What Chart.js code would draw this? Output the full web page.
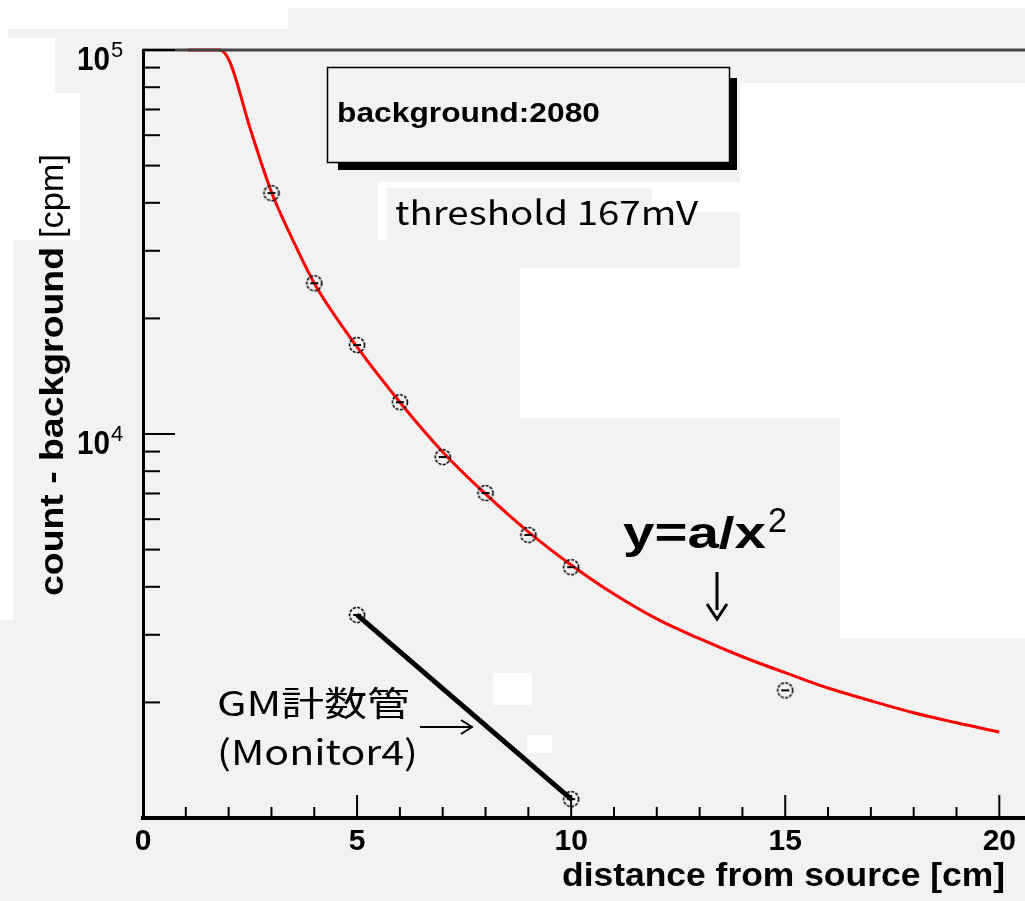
<!DOCTYPE html>
<html>
<head>
<meta charset="utf-8">
<script src="https://cdn.jsdelivr.net/npm/chart.js@4.4.1/dist/chart.umd.min.js"></script>
<style>
  html, body { margin: 0; padding: 0; background: #f2f2f2; overflow: hidden; }
  canvas { display: block; }
</style>
</head>
<body>
<canvas id="distChart" width="1025" height="901"></canvas>
<script>
// fit curve y = a/x^2
const fitDist = [1.05, 1.8, 2.03, 2.5, 3, 3.5, 4, 5, 6, 7, 8, 9, 10, 11, 12, 13, 14, 15, 16, 17, 18, 19, 20];
const fitRate = [100000, 100000, 93000, 62600, 42700, 32000, 24700, 16850, 12100, 8980, 6980, 5560, 4560, 3830, 3300, 2930, 2630, 2390, 2180, 2020, 1880, 1770, 1675];

// measured points, count - background
const distCm = [3, 4, 5, 6, 7, 8, 9, 10, 15];
const countRate = [42400, 24700, 17050, 12100, 8710, 7020, 5460, 4500, 2150];

// GM tube (Monitor4)
const gmDist = [5, 10];
const gmRate = [3380, 1120];

const xTicks = [0, 1, 2, 3, 4, 5, 6, 7, 8, 9, 10, 11, 12, 13, 14, 15, 16, 17, 18, 19, 20];
const yTicks = [2000, 3000, 4000, 5000, 6000, 7000, 8000, 9000, 10000,
                20000, 30000, 40000, 50000, 60000, 70000, 80000, 90000, 100000];
const yLabelPowers = [4, 5];

const SANS = '"Liberation Sans", Arial, sans-serif';
const JP = '"Noto Sans CJK JP", "DejaVu Sans", sans-serif';

// open circle marker with a small error bar inside
function makeMarker() {
    const c = document.createElement('canvas');
    c.width = 20; c.height = 20;
    const g = c.getContext('2d');
    g.strokeStyle = '#000';
    g.lineWidth = 1.6;
    g.setLineDash([3, 1.4]);
    g.beginPath();
    g.arc(10, 10, 7.5, 0, Math.PI * 2);
    g.stroke();
    g.setLineDash([]);
    g.lineWidth = 2;
    g.beginPath();
    g.moveTo(6, 10); g.lineTo(14, 10);
    g.stroke();
    return c;
}
const marker = makeMarker();

// stretch text horizontally to a given width (left x, baseline y)
function fitText(ctx, text, x, y, font, w) {
    ctx.save();
    ctx.font = font;
    const m = ctx.measureText(text).width;
    ctx.translate(x, y);
    ctx.scale(w / m, 1);
    ctx.textAlign = 'left';
    ctx.textBaseline = 'alphabetic';
    ctx.fillText(text, 0, 0);
    ctx.restore();
}

const backdrop = {
    id: 'backdrop',
    beforeDraw(chart) {
        const ctx = chart.ctx;
        ctx.save();
        ctx.fillStyle = '#f2f2f2';
        ctx.fillRect(0, 0, chart.width, chart.height);
        ctx.fillStyle = '#ffffff';
        const patches = [
            [0, 0, 1025, 8], [0, 8, 288, 21], [0, 29, 8, 9], [0, 38, 55, 55],
            [0, 93, 80, 147], [0, 240, 13, 380],
            [740, 83, 285, 185], [520, 268, 505, 150], [840, 418, 185, 220],
            [378, 182, 362, 6], [378, 188, 9, 52], [652, 188, 88, 24],
            [493, 673, 39, 32], [527, 735, 25, 18]
        ];
        patches.forEach(p => ctx.fillRect(p[0], p[1], p[2], p[3]));
        ctx.restore();
    }
};

const decorations = {
    id: 'decorations',
    afterDraw(chart) {
        const ctx = chart.ctx;
        const xs = chart.scales.x, ys = chart.scales.y;
        const area = chart.chartArea;
        ctx.save();
        ctx.strokeStyle = '#000';
        ctx.fillStyle = '#000';

        // top frame line
        ctx.strokeStyle = '#444';
        ctx.lineWidth = 3;
        ctx.beginPath();
        ctx.moveTo(area.left, area.top);
        ctx.lineTo(area.right, area.top);
        ctx.stroke();

        // inward ticks
        ctx.strokeStyle = '#000';
        ctx.lineWidth = 2;
        xs.ticks.forEach(t => {
            const px = xs.getPixelForValue(t.value);
            const len = t.value % 5 === 0 ? 23 : 11;
            ctx.beginPath();
            ctx.moveTo(px, area.bottom);
            ctx.lineTo(px, area.bottom - len);
            ctx.stroke();
        });
        ys.ticks.forEach(t => {
            const py = ys.getPixelForValue(t.value);
            const major = Math.abs(Math.log10(t.value) - Math.round(Math.log10(t.value))) < 1e-9;
            ctx.beginPath();
            ctx.moveTo(area.left, py);
            ctx.lineTo(area.left + (major ? 32 : 17), py);
            ctx.stroke();
        });

        // y tick labels 10^n
        yLabelPowers.forEach(p => {
            const py = ys.getPixelForValue(Math.pow(10, p));
            fitText(ctx, '10', 77, py + 20, 'bold 33px ' + SANS, 33);
            ctx.font = '22px ' + SANS;
            ctx.textAlign = 'left';
            ctx.fillText(String(p), 111, py + 7);
        });

        // axis titles
        fitText(ctx, 'distance from source [cm]', 562, 886, 'bold 33px ' + SANS, 443);
        ctx.save();
        ctx.translate(63, 596);
        ctx.rotate(-Math.PI / 2);
        fitText(ctx, 'count - background', 0, 0, 'bold 33px ' + SANS, 349);
        fitText(ctx, '[cpm]', 358, 0, '34px ' + SANS, 84);
        ctx.restore();

        // stats box with shadow
        ctx.fillStyle = '#000';
        ctx.fillRect(338, 162, 399, 8);
        ctx.fillRect(729, 78, 8, 92);
        ctx.fillStyle = '#f2f2f2';
        ctx.fillRect(327, 67, 402, 95);
        ctx.strokeStyle = '#000';
        ctx.lineWidth = 1.5;
        ctx.strokeRect(327.5, 67.5, 402, 95);
        ctx.fillStyle = '#000';
        fitText(ctx, 'background:2080', 337, 122, 'bold 28px ' + SANS, 263);

        fitText(ctx, 'threshold 167mV', 395, 225, '33px ' + JP, 303);

        // fit formula and arrow
        fitText(ctx, 'y=a/x', 623, 548, 'bold 44px ' + SANS, 143);
        fitText(ctx, '2', 768, 532, '35px ' + SANS, 19);
        ctx.lineWidth = 3;
        ctx.beginPath();
        ctx.moveTo(717, 572); ctx.lineTo(717, 610);
        ctx.stroke();
        ctx.beginPath();
        ctx.moveTo(707, 604); ctx.lineTo(717, 619); ctx.lineTo(727, 604);
        ctx.stroke();

        // GM tube label and arrow
        fitText(ctx, 'GM計数管', 217, 716, '34px ' + JP, 193);
        fitText(ctx, '(Monitor4)', 217, 765, '34px ' + JP, 201);
        ctx.lineWidth = 2;
        ctx.beginPath();
        ctx.moveTo(420, 727); ctx.lineTo(471, 727);
        ctx.stroke();
        ctx.beginPath();
        ctx.moveTo(461, 720); ctx.lineTo(472, 727); ctx.lineTo(461, 734);
        ctx.stroke();

        ctx.restore();
    }
};

const config = {
    type: 'line',
    data: {
        datasets: [
            {
                label: 'fit',
                data: fitDist.map((d, i) => ({ x: d, y: fitRate[i] })),
                borderColor: '#ff0000',
                borderWidth: 3,
                pointRadius: 0,
                cubicInterpolationMode: 'monotone',
                clip: false,
                order: 2
            },
            {
                label: 'GM計数管 (Monitor4)',
                data: gmDist.map((d, i) => ({ x: d, y: gmRate[i] })),
                borderColor: '#000',
                borderWidth: 5,
                pointStyle: marker,
                clip: false,
                order: 1
            },
            {
                label: 'count - background',
                data: distCm.map((d, i) => ({ x: d, y: countRate[i] })),
                showLine: false,
                pointStyle: marker,
                clip: false,
                order: 0
            }
        ]
    },
    options: {
        responsive: false,
        animation: false,
        devicePixelRatio: 1,
        layout: { autoPadding: false, padding: { top: 50, left: 0, right: 0, bottom: 0 } },
        plugins: { legend: { display: false }, tooltip: { enabled: false } },
        scales: {
            x: {
                type: 'linear',
                min: 0,
                max: 20.6,
                afterBuildTicks: s => { s.ticks = xTicks.map(v => ({ value: v })); },
                afterFit: s => { s.height = 83; s.paddingLeft = 0; s.paddingRight = 0; },
                grid: { display: true, drawOnChartArea: false, drawTicks: false },
                border: { display: true, color: '#000', width: 4 },
                ticks: {
                    autoSkip: false,
                    maxRotation: 0,
                    padding: 6,
                    color: '#000',
                    font: { family: SANS, weight: 'bold', size: 30 },
                    callback: v => (v % 5 === 0 ? String(v) : '')
                }
            },
            y: {
                type: 'logarithmic',
                min: 1000,
                max: 100000,
                afterBuildTicks: s => { s.ticks = yTicks.map(v => ({ value: v })); },
                afterFit: s => { s.width = 143; s.paddingTop = 0; s.paddingBottom = 0; },
                grid: { display: true, drawOnChartArea: false, drawTicks: false },
                border: { display: true, color: '#000', width: 3 },
                ticks: { display: false }
            }
        }
    },
    plugins: [backdrop, decorations]
};

window.onload = function() {
    const ctx = document.getElementById('distChart').getContext('2d');
    new Chart(ctx, config);
};
</script>
</body>
</html>
